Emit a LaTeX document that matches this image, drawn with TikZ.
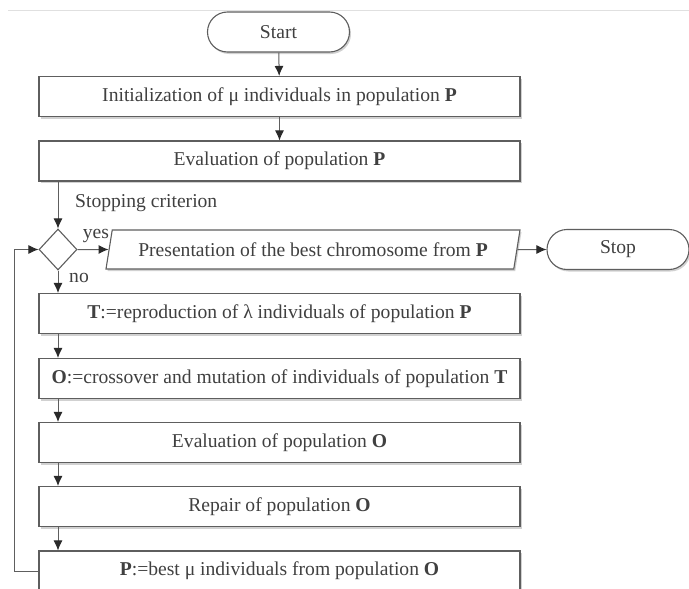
\documentclass[tikz,border=0pt]{standalone}
\usepackage{fontspec}
\setmainfont{Liberation Serif}
\usetikzlibrary{shapes.geometric,shapes.misc,arrows.meta,shadows}
\definecolor{txt}{HTML}{404040}
\definecolor{edge}{HTML}{5E5E5E}
\definecolor{tip}{HTML}{2A2A2A}
\begin{document}
\begin{tikzpicture}[x=1pt,y=-1pt,
  every node/.style={text=txt, font=\fontsize{19.6}{23}\selectfont},
  shade/.style={drop shadow={shadow xshift=1.5pt, shadow yshift=-2pt, opacity=0.18, fill=black}},
  proc/.style={draw=edge, line width=1.1pt, fill=white, minimum width=481pt,
    minimum height=40pt, inner sep=0pt, shade},
  term/.style={rounded rectangle, draw=edge, line width=1.1pt, fill=white,
    minimum width=142pt, minimum height=40pt, inner sep=0pt, shade},
  io/.style={trapezium, trapezium left angle=66, trapezium right angle=114,
    trapezium stretches body, draw=edge, line width=1.1pt, fill=white,
    minimum width=414pt, minimum height=39pt, inner sep=0pt, shade},
  decide/.style={diamond, draw=edge, line width=1.1pt, fill=white,
    minimum width=38pt, minimum height=41pt, inner sep=0pt},
  flow/.style={draw=edge, line width=1pt, -{Latex[length=10pt,width=9pt,color=tip]}},
  lbl/.style={inner sep=0pt}]
\useasboundingbox (0,0) rectangle (689,589);
\fill[white] (0,0) rectangle (689,589);
\draw[black!12, line width=1pt] (8,10.5) -- (689,10.5);

% process chain
\node[term] (start) at (278.5,32) {Start};
\node[proc] (init) at (279.5,96.5) {Initialization of μ individuals in population \textbf{P}};
\node[proc] (evalP) at (279.5,161) {Evaluation of population \textbf{P}};
\node[decide] (crit) at (58,249.5) {};
\node[io] (pres) at (313,249.5) {Presentation of the best chromosome from \textbf{P}};
\node[term] (stop) at (618,249.5) {Stop};
\node[proc] (repro) at (279.5,313.5) {\textbf{T}:=reproduction of λ individuals of population \textbf{P}};
\node[proc] (cross) at (279.5,378.5) {\textbf{O}:=crossover and mutation of individuals of population \textbf{T}};
\node[proc] (evalO) at (279.5,442.5) {Evaluation of population \textbf{O}};
\node[proc] (repair) at (279.5,506.5) {Repair of population \textbf{O}};
\node[proc] (select) at (279.5,571) {\textbf{P}:=best μ individuals from population \textbf{O}};

% labels
\node[lbl, anchor=west] (critlbl) at (75,203) {Stopping criterion};
\node[lbl] (yeslbl) at (96,236) {yes};
\node[lbl] (nolbl) at (79,278) {no};

% connectors
\draw[flow] (start) -- (init);
\draw[flow] (init) -- (evalP);
\draw[flow] (evalP.south -| crit) -- (crit.north);
\draw[flow] (crit.east) -- (pres.west);
\draw[flow] (pres.east) -- (stop.west);
\draw[flow] (crit.south) -- (repro.north -| crit);
\draw[flow] (repro.south -| crit) -- (cross.north -| crit);
\draw[flow] (cross.south -| crit) -- (evalO.north -| crit);
\draw[flow] (evalO.south -| crit) -- (repair.north -| crit);
\draw[flow] (repair.south -| crit) -- (select.north -| crit);
\draw[flow] (select.west) -- ++(-24,0) |- (crit.west);
\end{tikzpicture}
\end{document}
